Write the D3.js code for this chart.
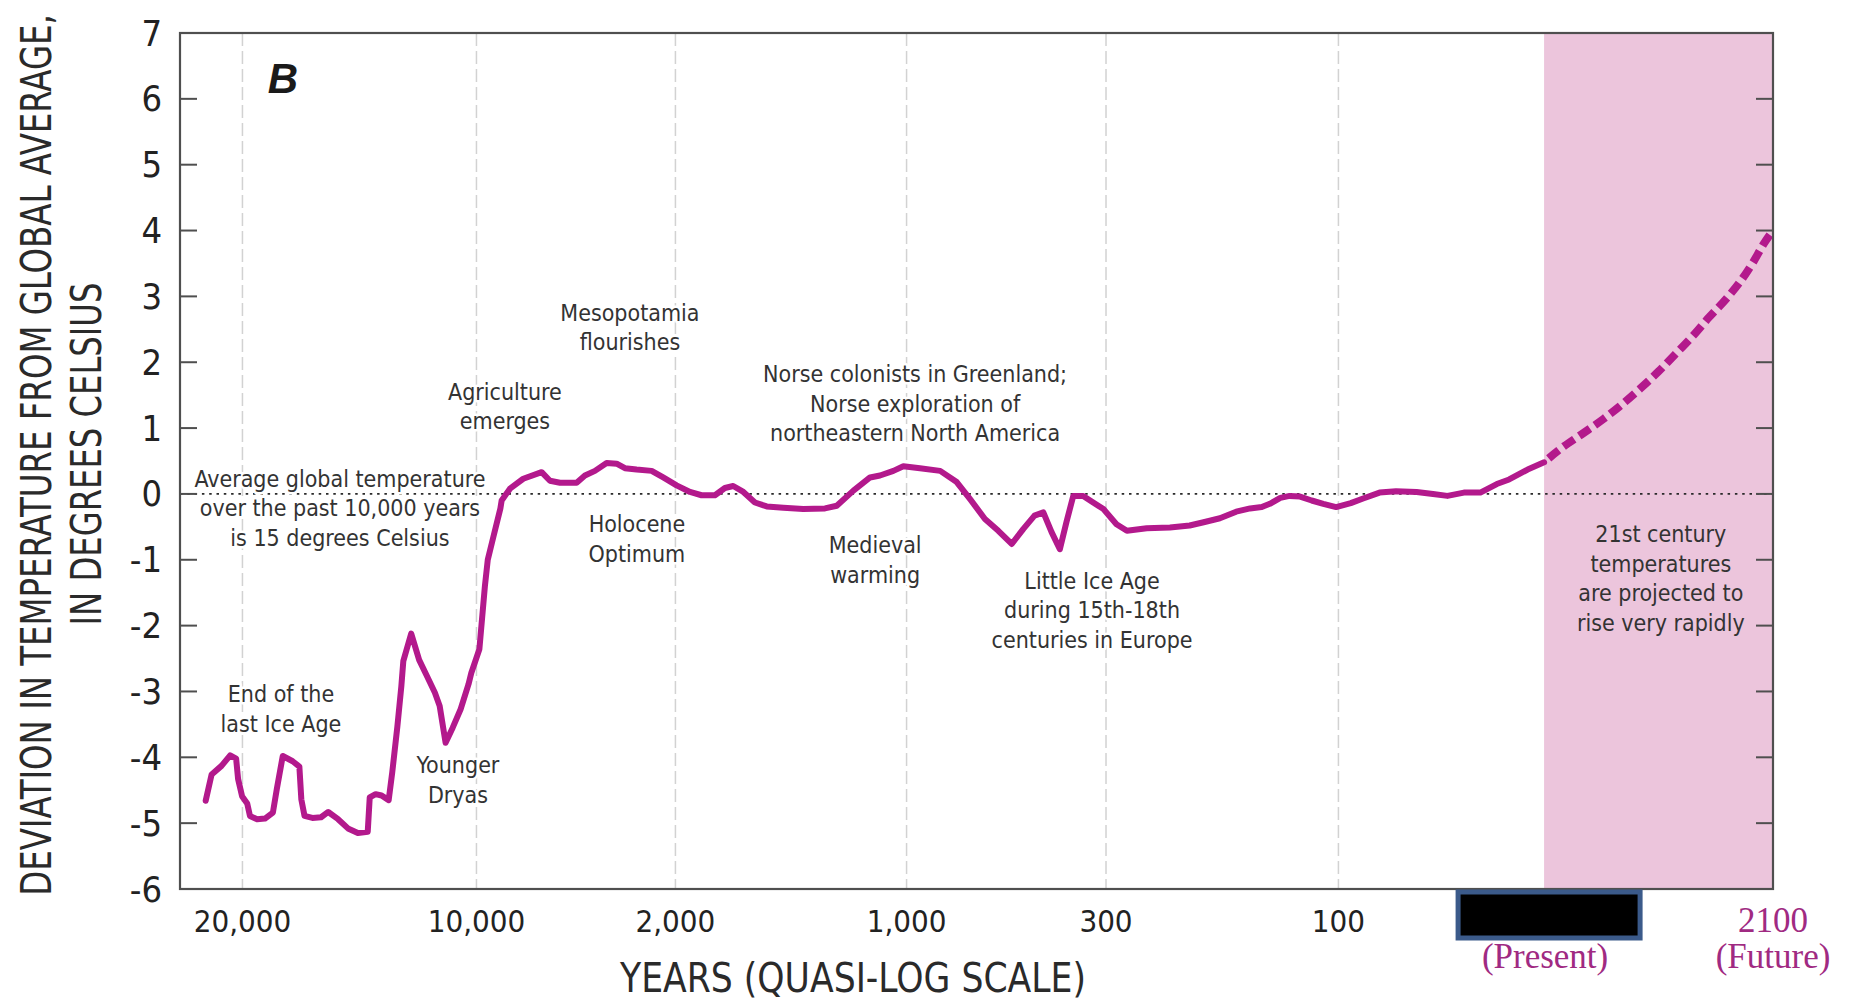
<!DOCTYPE html>
<html>
<head>
<meta charset="utf-8">
<script src="https://cdn.jsdelivr.net/npm/d3@7"></script>
<style>
  html, body { margin: 0; padding: 0; background: #fff; }
  svg { display: block; }
</style>
</head>
<body>
<svg id="chart" width="1851" height="1002"></svg>
<script>
// ---- Data -------------------------------------------------------------
// Years before present (negative = future) and temperature deviation (deg C)
const yearsAgo = [
  21571, 21317, 20895, 20524, 20270, 20186, 20017, 19797, 19679, 19375,
  19037, 18699, 18531, 18277, 17855, 17568, 17483, 17348, 17010, 16639,
  16335, 15913, 15490, 15068, 14646, 14561, 14308, 14055, 13751, 13599,
  13379, 13210, 13126, 12788, 12450, 12112, 11775, 11572, 11319, 11015,
  10677, 10339, 10221, 9883, 9660, 9545, 9325, 9038, 8987, 8653,
  8119, 7379, 7045, 6643, 5972, 5638, 5236, 4766, 4364, 4030,
  3560, 2957, 2490, 1995, 1937, 1887, 1829, 1786, 1750, 1706,
  1656, 1605, 1533, 1447, 1353, 1302, 1230, 1158, 1115, 1057,
  1014, 953, 882, 824, 777, 725, 678, 631, 590, 551,
  520, 491, 462, 439, 415, 380, 345, 309, 291, 282,
  265, 245, 228, 216, 202, 188, 176, 166, 159, 150,
  142, 133, 123, 113, 102, 94, 88, 80, 72, 62,
  54, 47, 39, 31, 23, 17, 8, 0
];
const deviation = [
  -4.66, -4.26, -4.13, -3.97, -4.02, -4.33, -4.59, -4.70, -4.89, -4.94,
  -4.93, -4.84, -4.48, -3.98, -4.06, -4.14, -4.64, -4.89, -4.92, -4.91,
  -4.83, -4.94, -5.08, -5.15, -5.13, -4.61, -4.56, -4.58, -4.65, -4.23,
  -3.53, -2.92, -2.54, -2.12, -2.52, -2.77, -3.02, -3.22, -3.78, -3.55,
  -3.27, -2.89, -2.72, -2.36, -1.40, -1.00, -0.66, -0.22, -0.10, 0.08,
  0.23, 0.33, 0.20, 0.17, 0.17, 0.28, 0.35, 0.47, 0.46, 0.39,
  0.37, 0.35, 0.25, 0.13, 0.03, -0.02, -0.02, 0.09, 0.12, 0.03,
  -0.13, -0.19, -0.21, -0.23, -0.22, -0.18, 0.05, 0.25, 0.28, 0.35,
  0.42, 0.39, 0.35, 0.18, -0.08, -0.38, -0.56, -0.76, -0.53, -0.33,
  -0.28, -0.58, -0.84, -0.43, -0.03, -0.03, -0.13, -0.23, -0.46, -0.56,
  -0.52, -0.51, -0.48, -0.43, -0.37, -0.27, -0.22, -0.20, -0.15, -0.06,
  -0.03, -0.04, -0.10, -0.15, -0.20, -0.14, -0.07, 0.02, 0.04, 0.03,
  0.00, -0.03, 0.02, 0.02, 0.15, 0.22, 0.37, 0.48
];

// 21st-century projection
const projYearsAgo  = [0, -7, -17, -26, -33, -42, -50, -57, -65, -72, -80, -86, -91, -96, -100];
const projDeviation = [0.48, 0.68, 0.92, 1.14, 1.33, 1.60, 1.86, 2.11, 2.40, 2.68, 2.98, 3.24, 3.50, 3.80, 4.00];

// Quasi-log x axis ticks
const tickYears  = [20000, 10000, 2000, 1000, 300, 100, 0, -100];
const tickLabels = ["20,000", "10,000", "2,000", "1,000", "300", "100", "", "2100"];
const gridYears  = [20000, 10000, 2000, 1000, 300, 100];
const yTicks     = [-6, -5, -4, -3, -2, -1, 0, 1, 2, 3, 4, 5, 6, 7];

const noteLines = [
  ["Mesopotamia", "flourishes"],
  ["Agriculture", "emerges"],
  ["Norse colonists in Greenland;", "Norse exploration of", "northeastern North America"],
  ["Average global temperature", "over the past 10,000 years", "is 15 degrees Celsius"],
  ["Holocene", "Optimum"],
  ["Medieval", "warming"],
  ["Little Ice Age", "during 15th-18th", "centuries in Europe"],
  ["21st century", "temperatures", "are projected to", "rise very rapidly"],
  ["End of the", "last Ice Age"],
  ["Younger", "Dryas"]
];

// ---- Layout -----------------------------------------------------------
const plot = { left: 180, right: 1773, top: 33, bottom: 889 };
// relative placement of the quasi-log ticks across the plot width
const tickFrac = [0.0392, 0.1861, 0.3110, 0.4561, 0.5813, 0.7272, 0.8563, 1.0];
// anchor of each note (first line centre) in data units [years ago, deg C]
const noteAnchors = [
  [3829, 2.75], [8854, 1.55], [970, 1.82], [15833, 0.23], [3548, -0.46],
  [1136, -0.78], [349, -1.32], [-51, -0.61], [18355, -3.04], [10791, -4.12]
];
const noteLineStep = 29.6;

const COND = '"Liberation Sans Narrow", "DejaVu Sans Condensed", "Arial Narrow", sans-serif';
const SERIF = '"Liberation Serif", "Times New Roman", serif';
const LINE_COLOR = "#b3198c";
const PINK = "#ecc5dc";
const MAGENTA_TEXT = "#a02a82";
const FRAME = "#4f4f4f";

const pw = plot.right - plot.left;
const x = d3.scaleLinear()
  .domain(tickYears)
  .range(tickFrac.map(f => plot.left + f * pw));
const y = d3.scaleLinear().domain([-6, 7]).range([plot.bottom, plot.top]);

const svg = d3.select("#chart");
svg.append("rect").attr("width", 1851).attr("height", 1002).attr("fill", "#fff");

// projection period shading
svg.append("rect")
  .attr("x", x(0)).attr("y", plot.top)
  .attr("width", plot.right - x(0)).attr("height", plot.bottom - plot.top)
  .attr("fill", PINK);

// dashed vertical grid at the labelled years
svg.append("g").selectAll("line").data(gridYears).join("line")
  .attr("x1", d => x(d)).attr("x2", d => x(d))
  .attr("y1", plot.top).attr("y2", plot.bottom)
  .attr("stroke", "#d2d2d2").attr("stroke-width", 1.5)
  .attr("stroke-dasharray", "13,5");

// zero reference (dotted)
svg.append("line")
  .attr("x1", plot.left).attr("x2", plot.right)
  .attr("y1", y(0)).attr("y2", y(0))
  .attr("stroke", "#2a2a2a").attr("stroke-width", 1.6)
  .attr("stroke-dasharray", "2.5,4.8");

// notes
const notes = svg.append("g")
  .attr("font-family", COND).attr("font-size", 23)
  .attr("fill", "#333").attr("text-anchor", "middle");
noteLines.forEach((lines, i) => {
  const [yr, t] = noteAnchors[i];
  const onPink = yr < 0;
  const txt = notes.append("text")
    .attr("x", x(yr)).attr("y", y(t))
    .attr("dominant-baseline", "central");
  if (!onPink) {
    txt.attr("stroke", "#fff").attr("stroke-width", 5)
       .attr("paint-order", "stroke").attr("stroke-linejoin", "round");
  }
  txt.selectAll("tspan").data(lines).join("tspan")
    .attr("x", x(yr))
    .attr("dy", (d, j) => j === 0 ? 0 : noteLineStep)
    .text(d => d);
});

// temperature history
const series = yearsAgo.map((yr, i) => [yr, deviation[i]]);
svg.append("path")
  .datum(series)
  .attr("d", d3.line().x(d => x(d[0])).y(d => y(d[1])))
  .attr("fill", "none").attr("stroke", LINE_COLOR)
  .attr("stroke-width", 6).attr("stroke-linejoin", "round").attr("stroke-linecap", "round");

// projection
const proj = projYearsAgo.map((yr, i) => [yr, projDeviation[i]]);
svg.append("path")
  .datum(proj)
  .attr("d", d3.line().curve(d3.curveMonotoneX).x(d => x(d[0])).y(d => y(d[1])))
  .attr("fill", "none").attr("stroke", LINE_COLOR)
  .attr("stroke-width", 8).attr("stroke-dasharray", "13,6").attr("stroke-dashoffset", -6);

// frame
svg.append("rect")
  .attr("x", plot.left).attr("y", plot.top)
  .attr("width", pw).attr("height", plot.bottom - plot.top)
  .attr("fill", "none").attr("stroke", FRAME).attr("stroke-width", 2.2);

// inner ticks, left and right
const inner = yTicks.filter(v => v > -6 && v < 7);
svg.append("g").selectAll("line").data(inner).join("line")
  .attr("x1", plot.left).attr("x2", plot.left + 17)
  .attr("y1", d => y(d)).attr("y2", d => y(d))
  .attr("stroke", FRAME).attr("stroke-width", 2);
svg.append("g").selectAll("line").data(inner).join("line")
  .attr("x1", plot.right - 17).attr("x2", plot.right)
  .attr("y1", d => y(d)).attr("y2", d => y(d))
  .attr("stroke", FRAME).attr("stroke-width", 2);

// y tick labels
svg.append("g").selectAll("text").data(yTicks).join("text")
  .attr("x", 162).attr("y", d => y(d))
  .attr("dominant-baseline", "central").attr("text-anchor", "end")
  .attr("font-family", COND).attr("font-size", 36).attr("fill", "#222")
  .text(d => d);

// x tick labels
svg.append("g").selectAll("text")
  .data(tickYears.map((v, i) => ({ v, label: tickLabels[i] })).filter(d => d.label && d.v >= 0))
  .join("text")
  .attr("x", d => x(d.v)).attr("y", 932)
  .attr("text-anchor", "middle")
  .attr("font-family", COND).attr("font-size", 31).attr("fill", "#222")
  .text(d => d.label);

// present / future labels
svg.append("rect")
  .attr("x", x(0) - 86).attr("y", 892)
  .attr("width", 182).attr("height", 46)
  .attr("fill", "#000").attr("stroke", "#3b5a8a").attr("stroke-width", 5);
svg.append("text")
  .attr("x", x(0) + 1).attr("y", 968).attr("text-anchor", "middle")
  .attr("font-family", SERIF).attr("font-size", 35).attr("fill", MAGENTA_TEXT)
  .text("(Present)");
svg.append("text")
  .attr("x", x(-100)).attr("y", 932).attr("text-anchor", "middle")
  .attr("font-family", SERIF).attr("font-size", 35).attr("fill", MAGENTA_TEXT)
  .text(tickLabels[tickLabels.length - 1]);
svg.append("text")
  .attr("x", x(-100)).attr("y", 968).attr("text-anchor", "middle")
  .attr("font-family", SERIF).attr("font-size", 35).attr("fill", MAGENTA_TEXT)
  .text("(Future)");

// axis titles: condensed horizontally to a set width
function title(str, cx, cy, rot, size, width) {
  const g = svg.append("g").attr("transform", `translate(${cx},${cy}) rotate(${rot})`);
  const t = g.append("text")
    .attr("text-anchor", "middle")
    .attr("font-family", COND).attr("font-size", size).attr("fill", "#2a2a2a")
    .text(str);
  const natural = t.node().getComputedTextLength();
  t.attr("transform", `scale(${Math.min(1, width / natural)},1)`);
}
title("YEARS (QUASI-LOG SCALE)", 853, 992, 0, 41, 466);
title("DEVIATION IN TEMPERATURE FROM GLOBAL AVERAGE,", 51, 455, -90, 43, 882);
title("IN DEGREES CELSIUS", 101, 454, -90, 43, 343);

// panel letter
svg.append("text")
  .attr("x", 283).attr("y", 93).attr("text-anchor", "middle")
  .attr("font-family", '"Liberation Sans", Arial, sans-serif')
  .attr("font-weight", "bold").attr("font-style", "italic")
  .attr("font-size", 42).attr("fill", "#1a1a1a")
  .text("B");
</script>
</body>
</html>
